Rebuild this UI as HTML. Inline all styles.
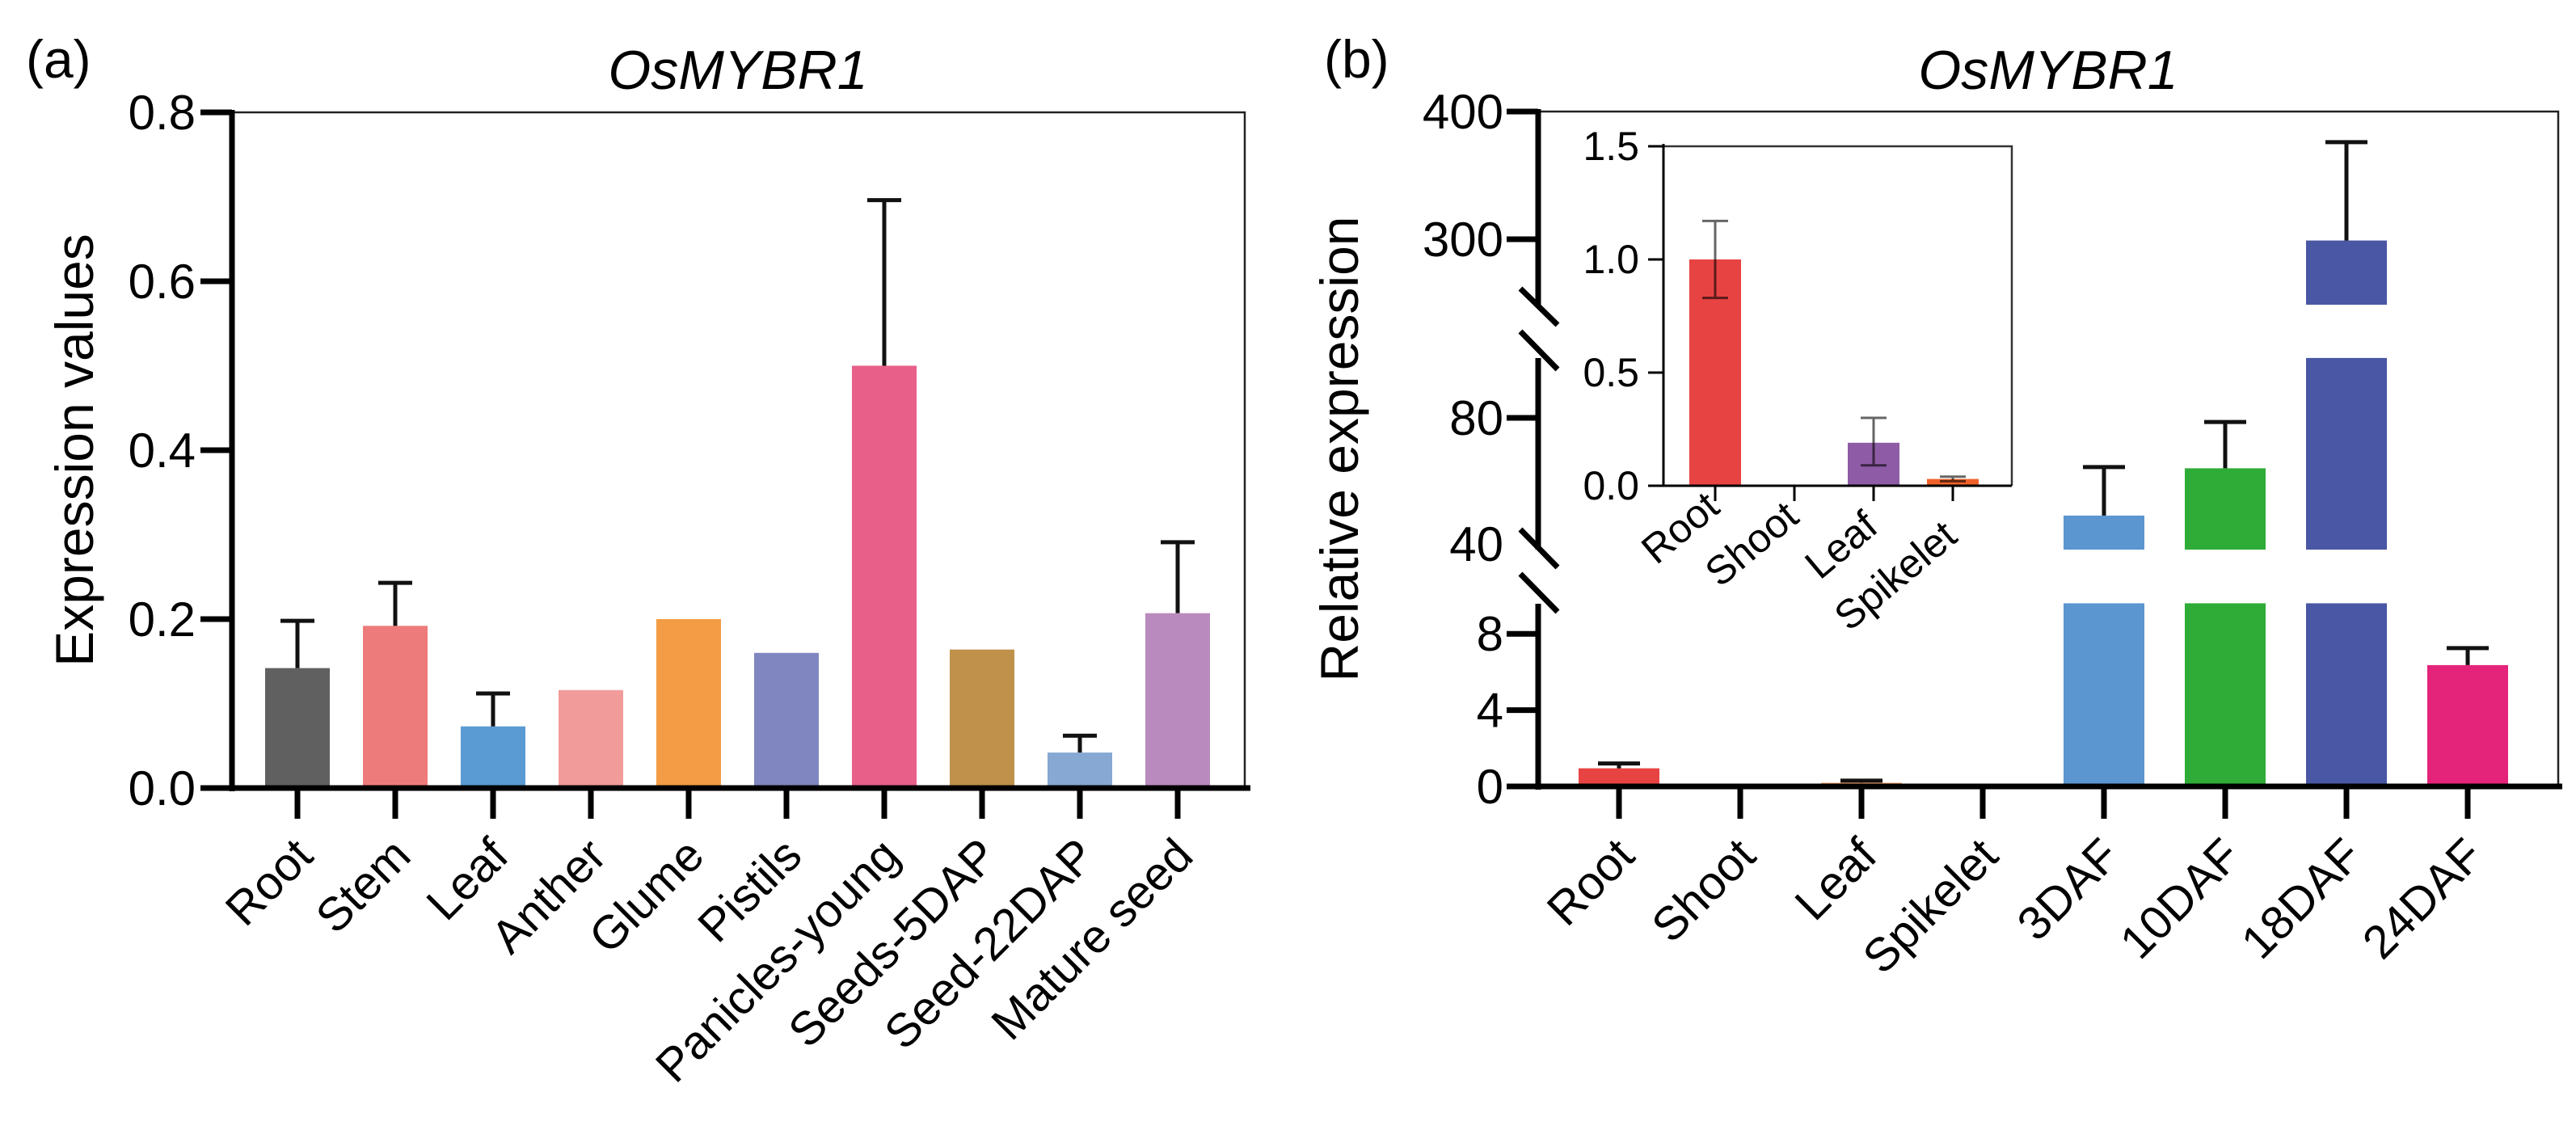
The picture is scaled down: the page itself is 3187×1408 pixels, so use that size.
<!DOCTYPE html>
<html><head><meta charset="utf-8"><style>
html,body{margin:0;padding:0;background:#fff}
svg{display:block;font-family:"Liberation Sans",Arial,sans-serif}
</style></head><body>
<svg id="fig" width="3187" height="1408" viewBox="0 0 3187 1408" xmlns="http://www.w3.org/2000/svg">
<g id="pa"></g>
<g id="pb"></g>
</svg>
<script>
// ---------- Panel (a) data ----------
const aCats = ["Root","Stem","Leaf","Anther","Glume","Pistils","Panicles-young","Seeds-5DAP","Seed-22DAP","Mature seed"];
const aVals = [0.142,0.192,0.073,0.116,0.200,0.160,0.500,0.164,0.042,0.207];
const aErr  = [0.198,0.243,0.112,null,null,null,0.696,null,0.062,0.291];
const aColors = ["#606060","#ee7b7b","#5b9bd3","#f29b9b","#f39c45","#8087c0","#e8608a","#c0914b","#86a8d2","#b98abd"];
const aTicks = [0,0.2,0.4,0.6,0.8];
const aTickLabels = ["0.0","0.2","0.4","0.6","0.8"];
// ---------- Panel (b) data ----------
const bCats = ["Root","Shoot","Leaf","Spikelet","3DAF","10DAF","18DAF","24DAF"];
const bVals = [0.95,0.005,0.19,0.03,49,64,299,6.36];
const bErr  = [1.2,null,0.3,null,64.4,78.7,376,7.25];
const bColors = ["#e84343","#9a9a9a","#f29b5c","#f0622a","#5b96d0","#2eac37","#4957a4","#e4237a"];
const bTicks = [0,4,8,40,80,300,400];
const bTickLabels = ["0","4","8","40","80","300","400"];
// inset
const iCats = ["Root","Shoot","Leaf","Spikelet"];
const iVals = [1.0,0.004,0.19,0.03];
const iErrLo = [0.83,null,0.09,0.02];
const iErrHi = [1.17,null,0.30,0.04];
const iColors = ["#e84343","#bbbbbb","#8e5ca6","#f0622a"];
const iTicks = [0,0.5,1.0,1.5];
const iTickLabels = ["0.0","0.5","1.0","1.5"];

const NS="http://www.w3.org/2000/svg";
function mk(parent,tag,attrs,text){const e=document.createElementNS(NS,tag);for(const k in attrs)e.setAttribute(k,attrs[k]);if(text!==undefined)e.textContent=text;parent.appendChild(e);return e;}

// ---------- Panel (a) ----------
const pa=document.getElementById('pa');
const aX0=287,aX1=1540,aY0=975,aYtop=139;
const aY=v=>aY0-v*(aY0-aYtop)/0.8;
const aXc=i=>368+121*i;
let t;
t=mk(pa,'text',{x:32,y:96,'font-size':66},'(a)');


t=mk(pa,'text',{x:913,y:110,'font-size':68,'font-style':'italic','text-anchor':'middle'},'OsMYBR1');


t=mk(pa,'text',{x:0,y:0,'font-size':66,'text-anchor':'middle',transform:`translate(115,${(aY0+aYtop)/2}) rotate(-90)`},'Expression values');


t=mk(pa,'path',{d:`M${aX0} ${aYtop}H${aX1}V${aY0}`,stroke:'#222',fill:'none','stroke-width':2.5});


aVals.forEach((v,i)=>{
  const r=mk(pa,'rect',{x:aXc(i)-40,y:aY(v),width:80,height:aY0-aY(v),fill:aColors[i]});
  
  
  if(aErr[i]!=null){
    const e=mk(pa,'path',{d:`M${aXc(i)} ${aY(v)}V${aY(aErr[i])}M${aXc(i)-21} ${aY(aErr[i])}H${aXc(i)+21}`,stroke:'#111','stroke-width':5,fill:'none'});
    
    
  }
  const tk=mk(pa,'line',{x1:aXc(i),x2:aXc(i),y1:aY0,y2:1013,stroke:'#000','stroke-width':7});
  
  
  const lb=mk(pa,'text',{x:0,y:0,'font-size':58,'text-anchor':'end',transform:`translate(${aXc(i)+22},${1062}) rotate(-45)`},aCats[i]);
  
  
});
aTicks.forEach((v,i)=>{
  const tk=mk(pa,'line',{x1:248,x2:aX0,y1:aY(v),y2:aY(v),stroke:'#000','stroke-width':7});
  
  
  const lb=mk(pa,'text',{x:242,y:aY(v)+21,'font-size':60,'text-anchor':'end'},aTickLabels[i]);
  
  
});
t=mk(pa,'path',{d:`M${aX0} ${aYtop-3}V${aY0+4}M248 ${aY0}H1547`,stroke:'#000','stroke-width':7,fill:'none'});



// ---------- Panel (b) ----------
const pb=document.getElementById('pb');
const bX0=1903,bX1=3165,bY0=973;
const segs=[
  {lo:0,hi:9.6,y0:973,y1:747,f:v=>973-v*23.6},
  {lo:38.2,hi:99,y0:680,y1:443,f:v=>517-(v-80)*3.9},
  {lo:249,hi:400,y0:377,y1:138,f:v=>296-(v-300)*1.58}
];
function bY(v){for(const s of segs){if(v<=s.hi)return s.f(Math.max(v,s.lo));}return segs[2].f(v);}
const bXc=i=>2003+150*i;
t=mk(pb,'text',{x:1638,y:96,'font-size':66},'(b)');


t=mk(pb,'text',{x:2534,y:110,'font-size':68,'font-style':'italic','text-anchor':'middle'},'OsMYBR1');


t=mk(pb,'text',{x:0,y:0,'font-size':66,'text-anchor':'middle',transform:`translate(1680,${(973+138)/2}) rotate(-90)`},'Relative expression');


t=mk(pb,'path',{d:`M${bX0} 138H${bX1}V${bY0}`,stroke:'#222',fill:'none','stroke-width':2.5});


bVals.forEach((v,i)=>{
  const g=mk(pb,'g',{});
  
  
  segs.forEach(s=>{
    if(v<=s.lo)return;
    const top=s.f(Math.min(v,s.hi));
    mk(g,'rect',{x:bXc(i)-50,y:top,width:100,height:Math.max(0,s.y0-top),fill:bColors[i]});
  });
  if(bErr[i]!=null){
    const e=mk(pb,'path',{d:`M${bXc(i)} ${bY(v)}V${bY(bErr[i])}M${bXc(i)-26} ${bY(bErr[i])}H${bXc(i)+26}`,stroke:'#111','stroke-width':5,fill:'none'});
    
    
  }
  const tk=mk(pb,'line',{x1:bXc(i),x2:bXc(i),y1:bY0,y2:1013,stroke:'#000','stroke-width':7});
  
  
  const lb=mk(pb,'text',{x:0,y:0,'font-size':58,'text-anchor':'end',transform:`translate(${bXc(i)+22},${1062}) rotate(-45)`},bCats[i]);
  
  
});
bTicks.forEach((v,i)=>{
  const y=bY(v);
  if(v!==40){
    const tk=mk(pb,'line',{x1:1864,x2:bX0,y1:y,y2:y,stroke:'#000','stroke-width':7});
    
    
  }
  const lb=mk(pb,'text',{x:1860,y:(v===40?673:y)+21,'font-size':60,'text-anchor':'end'},bTickLabels[i]);
  
  
});
let axd=segs.map(s=>`M${bX0} ${s.y0+(s.lo===0?4:0)}V${s.y1-(s.hi===400?3:0)}`).join('');
axd+=`M1864 ${bY0}H3170`;
axd+=`M1881 357L1927 402M1881 410L1927 457M1881 655L1927 702M1881 710L1927 757`;
t=mk(pb,'path',{d:axd,stroke:'#000','stroke-width':7,fill:'none'});



// ---------- Inset ----------
const ins=mk(pb,'g',{});


const iX0=2058,iX1=2489,iY0=601,iYtop=181;
const iY=v=>iY0-v*(iY0-iYtop)/1.5;
const iXc=i=>2122+98*i;
t=mk(ins,'path',{d:`M${iX0} ${iYtop}H${iX1}V${iY0}`,stroke:'#333',fill:'none','stroke-width':2.5});


iVals.forEach((v,i)=>{
  const r=mk(ins,'rect',{x:iXc(i)-32,y:iY(v),width:64,height:Math.max(1.5,iY0-iY(v)),fill:iColors[i]});
  
  
  if(iErrHi[i]!=null){
    const e=mk(ins,'path',{d:`M${iXc(i)} ${iY(iErrLo[i])}V${iY(iErrHi[i])}M${iXc(i)-16} ${iY(iErrHi[i])}H${iXc(i)+16}M${iXc(i)-16} ${iY(iErrLo[i])}H${iXc(i)+16}`,stroke:'#000','stroke-opacity':0.6,'stroke-width':3,fill:'none'});
    
    
  }
  const tk=mk(ins,'line',{x1:iXc(i),x2:iXc(i),y1:iY0,y2:620,stroke:'#000','stroke-width':3});
  
  
  const lb=mk(ins,'text',{x:0,y:0,'font-size':50,'text-anchor':'end',transform:`translate(${iXc(i)+8},${632+i*12}) rotate(-40)`},iCats[i]);
  
  
});
iTicks.forEach((v,i)=>{
  const tk=mk(ins,'line',{x1:2039,x2:iX0,y1:iY(v),y2:iY(v),stroke:'#000','stroke-width':3});
  
  
  const lb=mk(ins,'text',{x:2028,y:iY(v)+17,'font-size':50,'text-anchor':'end'},iTickLabels[i]);
  
  
});
t=mk(ins,'path',{d:`M${iX0} ${iYtop-3}V${iY0}M2039 ${iY0}H${iX1}`,stroke:'#000','stroke-width':3,fill:'none'});


</script>
</body></html>
